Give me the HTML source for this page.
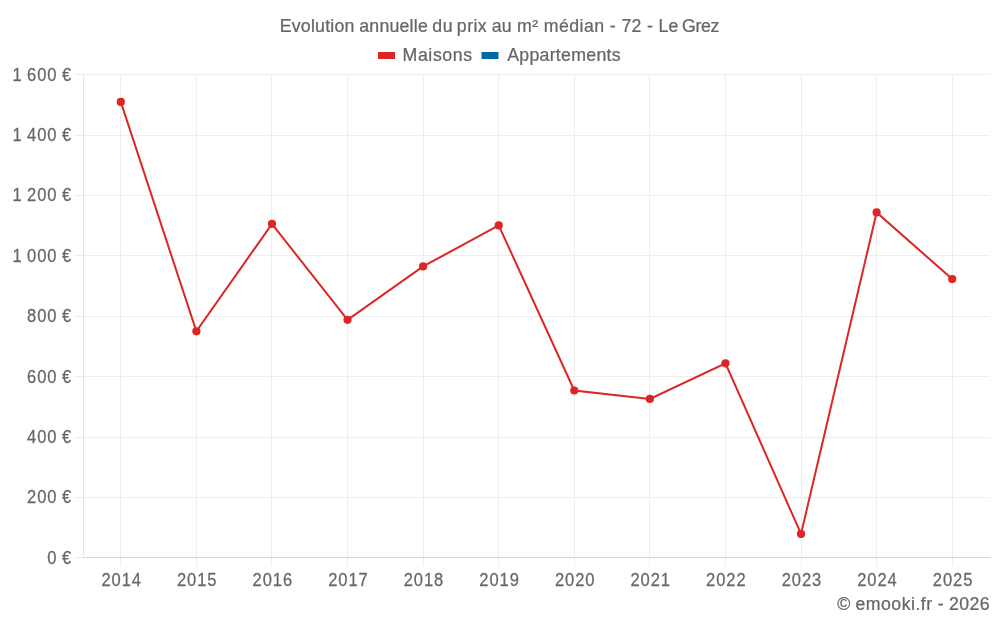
<!DOCTYPE html>
<html lang="fr"><head><meta charset="utf-8"><title>Evolution annuelle du prix au m² médian - 72 - Le Grez</title>
<style>html,body{margin:0;padding:0;background:#fff;overflow:hidden}svg{display:block}text{font-family:"Liberation Sans",sans-serif;fill:#666666;white-space:pre;stroke:#666666;stroke-width:0.25px;stroke-linejoin:round}</style></head><body>
<svg width="1000" height="625" viewBox="0 0 1000 625" role="img" aria-label="Evolution annuelle du prix au m² médian - 72 - Le Grez">
<rect width="1000" height="625" fill="#fff"/>
<g stroke="#eeeeee" stroke-width="1" shape-rendering="crispEdges"><line x1="75" x2="990" y1="74.5" y2="74.5"/><line x1="75" x2="990" y1="135.5" y2="135.5"/><line x1="75" x2="990" y1="195.5" y2="195.5"/><line x1="75" x2="990" y1="255.5" y2="255.5"/><line x1="75" x2="990" y1="316.5" y2="316.5"/><line x1="75" x2="990" y1="376.5" y2="376.5"/><line x1="75" x2="990" y1="437.5" y2="437.5"/><line x1="75" x2="990" y1="497.5" y2="497.5"/><line x1="75" x2="990" y1="557.5" y2="557.5"/><line x1="120.5" x2="120.5" y1="74" y2="566"/><line x1="196.5" x2="196.5" y1="74" y2="566"/><line x1="271.5" x2="271.5" y1="74" y2="566"/><line x1="347.5" x2="347.5" y1="74" y2="566"/><line x1="423.5" x2="423.5" y1="74" y2="566"/><line x1="498.5" x2="498.5" y1="74" y2="566"/><line x1="574.5" x2="574.5" y1="74" y2="566"/><line x1="649.5" x2="649.5" y1="74" y2="566"/><line x1="725.5" x2="725.5" y1="74" y2="566"/><line x1="801.5" x2="801.5" y1="74" y2="566"/><line x1="876.5" x2="876.5" y1="74" y2="566"/><line x1="952.5" x2="952.5" y1="74" y2="566"/></g>
<line x1="83.5" x2="83.5" y1="74" y2="558" stroke="#e5e5e5" stroke-width="1" shape-rendering="crispEdges"/>
<line x1="83" x2="991" y1="557.5" y2="557.5" stroke="#d6d6d6" stroke-width="1" shape-rendering="crispEdges"/>
<rect x="378" y="52" width="17" height="7" fill="#dc2626"/>
<rect x="481.5" y="52" width="17" height="7" fill="#0369a1"/>
<text x="288.40 300.82 310.19 320.58 324.86 335.26 340.56 344.84 355.24 365.14 370.36 380.74 391.13 401.52 411.90 422.29 426.57 430.84 440.76 445.62 456.50 466.27 470.99 481.59 488.10 492.59 502.10 506.95 517.33 527.10 532.87 548.83 556.22 560.64 576.32 586.93 597.55 602.05 612.66 622.72 628.65 635.60 640.81 651.05 661.12 666.90 674.11 678.91 689.09 698.75 703.20 717.06 722.78 732.59" y="32" font-size="18.3" transform="scale(0.97,1)">Evolution annuelle du prix au m² médian - 72 - Le Grez</text>
<text x="414.99 430.84 441.62 446.28 456.04 466.81 477.59" y="61" font-size="18.3" transform="scale(0.97,1)">Maisons</text>
<text x="522.85 535.33 545.79 556.25 566.70 573.07 578.44 588.89 604.41 614.87 625.32 630.69" y="61" font-size="18.3" transform="scale(0.97,1)">Appartements</text>
<text x="14.34 25.30 31.01 42.57 54.13 65.09 70.79" y="81" font-size="18.9" transform="scale(0.875,1)">1 600 €</text>
<text x="14.34 25.30 31.01 42.57 54.13 65.09 70.79" y="141" font-size="18.9" transform="scale(0.875,1)">1 400 €</text>
<text x="14.34 25.30 31.01 42.57 54.13 65.09 70.79" y="201" font-size="18.9" transform="scale(0.875,1)">1 200 €</text>
<text x="14.34 25.30 31.01 42.57 54.13 65.09 70.79" y="262" font-size="18.9" transform="scale(0.875,1)">1 000 €</text>
<text x="31.01 42.57 54.13 65.09 70.79" y="322" font-size="18.9" transform="scale(0.875,1)">800 €</text>
<text x="31.01 42.57 54.13 65.09 70.79" y="383" font-size="18.9" transform="scale(0.875,1)">600 €</text>
<text x="31.01 42.57 54.13 65.09 70.79" y="443" font-size="18.9" transform="scale(0.875,1)">400 €</text>
<text x="31.01 42.57 54.13 65.09 70.79" y="503" font-size="18.9" transform="scale(0.875,1)">200 €</text>
<text x="54.13 65.09 70.79" y="564" font-size="18.9" transform="scale(0.875,1)">0 €</text>
<text x="115.91 127.47 139.03 150.59" y="586" font-size="18.9" transform="scale(0.875,1)">2014</text>
<text x="202.29 213.85 225.41 236.97" y="586" font-size="18.9" transform="scale(0.875,1)">2015</text>
<text x="288.67 300.23 311.79 323.35" y="586" font-size="18.9" transform="scale(0.875,1)">2016</text>
<text x="375.05 386.61 398.17 409.73" y="586" font-size="18.9" transform="scale(0.875,1)">2017</text>
<text x="461.43 472.99 484.55 496.12" y="586" font-size="18.9" transform="scale(0.875,1)">2018</text>
<text x="547.81 559.37 570.93 582.50" y="586" font-size="18.9" transform="scale(0.875,1)">2019</text>
<text x="634.19 645.75 657.32 668.88" y="586" font-size="18.9" transform="scale(0.875,1)">2020</text>
<text x="720.57 732.14 743.70 755.26" y="586" font-size="18.9" transform="scale(0.875,1)">2021</text>
<text x="806.95 818.52 830.08 841.64" y="586" font-size="18.9" transform="scale(0.875,1)">2022</text>
<text x="893.34 904.90 916.46 928.02" y="586" font-size="18.9" transform="scale(0.875,1)">2023</text>
<text x="979.72 991.28 1002.84 1014.40" y="586" font-size="18.9" transform="scale(0.875,1)">2024</text>
<text x="1066.10 1077.66 1089.22 1100.78" y="586" font-size="18.9" transform="scale(0.875,1)">2025</text>
<text x="863.26 876.94 881.90 892.55 908.27 918.91 929.56 939.18 943.72 949.27 954.83 961.27 966.80 973.49 978.46 988.98 999.49 1010.01" y="610" font-size="18.3" transform="scale(0.97,1)">© emooki.fr - 2026</text>
<polyline fill="none" stroke="#dc2626" stroke-width="2" stroke-linejoin="miter" points="120.79,101.92 196.38,331.34 271.96,223.88 347.54,319.87 423.12,266.44 498.71,225.39 574.29,390.51 649.88,398.96 725.46,363.34 801.04,533.90 876.62,212.40 952.21,279.12"/>
<circle cx="120.79" cy="101.92" r="4.1" fill="#dc2626"/>
<circle cx="196.38" cy="331.34" r="4.1" fill="#dc2626"/>
<circle cx="271.96" cy="223.88" r="4.1" fill="#dc2626"/>
<circle cx="347.54" cy="319.87" r="4.1" fill="#dc2626"/>
<circle cx="423.12" cy="266.44" r="4.1" fill="#dc2626"/>
<circle cx="498.71" cy="225.39" r="4.1" fill="#dc2626"/>
<circle cx="574.29" cy="390.51" r="4.1" fill="#dc2626"/>
<circle cx="649.88" cy="398.96" r="4.1" fill="#dc2626"/>
<circle cx="725.46" cy="363.34" r="4.1" fill="#dc2626"/>
<circle cx="801.04" cy="533.90" r="4.1" fill="#dc2626"/>
<circle cx="876.62" cy="212.40" r="4.1" fill="#dc2626"/>
<circle cx="952.21" cy="279.12" r="4.1" fill="#dc2626"/>
</svg></body></html>
